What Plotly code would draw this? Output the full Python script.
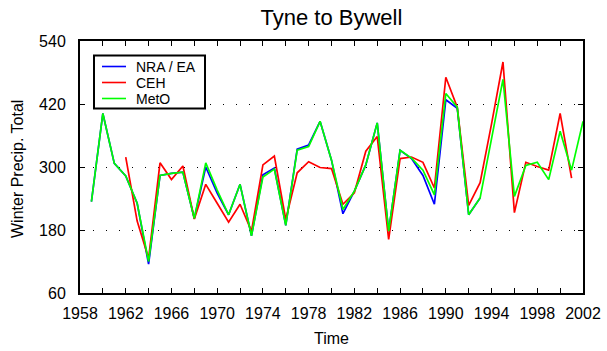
import plotly.graph_objects as go

# Winter precipitation totals, Tyne to Bywell, from three data sources
years_meto = list(range(1959, 2003))
meto = [234, 402, 307, 283, 231, 120, 284, 288, 290, 202,
        308, 256, 209, 267, 169, 281, 296, 189, 332, 339,
        387, 313, 219, 254, 304, 384, 178, 332, 317, 294,
        247, 440, 414, 209, 241, 352, 467, 244, 303, 309,
        276, 368, 294, 387]

years_nra = list(range(1959, 1994))
nra = [234, 402, 307, 283, 231, 115, 284, 288, 290, 202,
       300, 250, 209, 267, 169, 285, 298, 189, 334, 342,
       387, 313, 211, 254, 304, 384, 178, 332, 316, 284,
       229, 428, 412, 209, 241]

years_ceh = list(range(1962, 2002))
ceh = [319, 197, 126, 308, 276, 302, 201, 267, 231, 195,
       229, 178, 304, 321, 200, 289, 310, 299, 297, 229,
       251, 330, 358, 162, 316, 319, 309, 260, 471, 414,
       227, 270, 382, 500, 213, 309, 301, 294, 402, 279]

series_names = ["NRA / EA", "CEH", "MetO"]
series_colors = ["#0000FF", "#FF0000", "#00FF00"]

x_tickvals = list(range(1958, 2003, 2))
x_ticktext = [str(y) if (y - 1958) % 4 == 0 else "" for y in x_tickvals]
y_tickvals = [60, 180, 300, 420, 540]

FONT = "Liberation Sans, Arial, sans-serif"
W, H = 607, 351
ML, MR, MT, MB = 80, 24, 41, 58
PW, PH = W - ML - MR, H - MT - MB


def px_to_paper(px, py):
    return (px - ML) / PW, (H - MB - py) / PH


fig = go.Figure()
for xs, ys, name, color in zip([years_nra, years_ceh, years_meto],
                               [nra, ceh, meto], series_names, series_colors):
    fig.add_trace(go.Scatter(x=xs, y=ys, mode="lines", name=name,
                             line=dict(color=color, width=1.7),
                             showlegend=False))

# Boxed legend in the upper-left corner of the axes
x0, y0 = px_to_paper(94, 55.5)
x1, y1 = px_to_paper(205, 108.5)
shapes = [dict(type="rect", xref="paper", yref="paper", x0=x0, y0=y1, x1=x1, y1=y0,
               line=dict(color="black", width=2), fillcolor="white", layer="above")]
annotations = []
for i, (name, color) in enumerate(zip(series_names, series_colors)):
    row_y = 66.5 + i * 16
    lx0, ly = px_to_paper(102, row_y)
    lx1, _ = px_to_paper(126, row_y)
    shapes.append(dict(type="line", xref="paper", yref="paper", x0=lx0, x1=lx1,
                       y0=ly, y1=ly, line=dict(color=color, width=1.6), layer="above"))
    tx, _ = px_to_paper(134, row_y)
    annotations.append(dict(xref="paper", yref="paper", x=tx, y=ly, text=name,
                            showarrow=False, xanchor="left", yanchor="middle",
                            font=dict(size=14)))

# Axis titles placed in pixel terms
tx_time, ty_time = px_to_paper(331.5, 338)
annotations.append(dict(xref="paper", yref="paper", x=tx_time, y=ty_time, text="Time",
                        showarrow=False, xanchor="center", yanchor="middle",
                        font=dict(size=16)))
tx_y, ty_y = px_to_paper(17, 169)
annotations.append(dict(xref="paper", yref="paper", x=tx_y, y=ty_y,
                        text="Winter Precip. Total", textangle=-90,
                        showarrow=False, xanchor="center", yanchor="middle",
                        font=dict(size=16)))

fig.update_layout(
    width=W, height=H,
    margin=dict(l=ML, r=MR, t=MT, b=MB, autoexpand=False),
    paper_bgcolor="white", plot_bgcolor="white",
    font=dict(family=FONT, size=16, color="black"),
    title=dict(text="Tyne to Bywell", x=0.546, xanchor="center",
               y=0.95, yanchor="middle", font=dict(size=22)),
    showlegend=False,
    shapes=shapes,
    annotations=annotations,
)
fig.update_xaxes(
    range=[1958, 2002], tickvals=x_tickvals, ticktext=x_ticktext,
    ticks="inside", ticklen=5, tickwidth=1, tickcolor="black",
    showline=True, linecolor="black", linewidth=2, mirror="ticks",
    showgrid=False, zeroline=False, ticklabelstandoff=5,
    tickfont=dict(size=16), automargin=False,
)
fig.update_yaxes(
    range=[60, 540], tickvals=y_tickvals,
    ticks="inside", ticklen=5, tickwidth=1, tickcolor="black",
    showline=True, linecolor="black", linewidth=2, mirror="ticks",
    showgrid=True, gridcolor="black", gridwidth=1, griddash="1px,12px",
    zeroline=False, ticklabelstandoff=9,
    tickfont=dict(size=16), automargin=False,
)

fig.write_html("out.html")
